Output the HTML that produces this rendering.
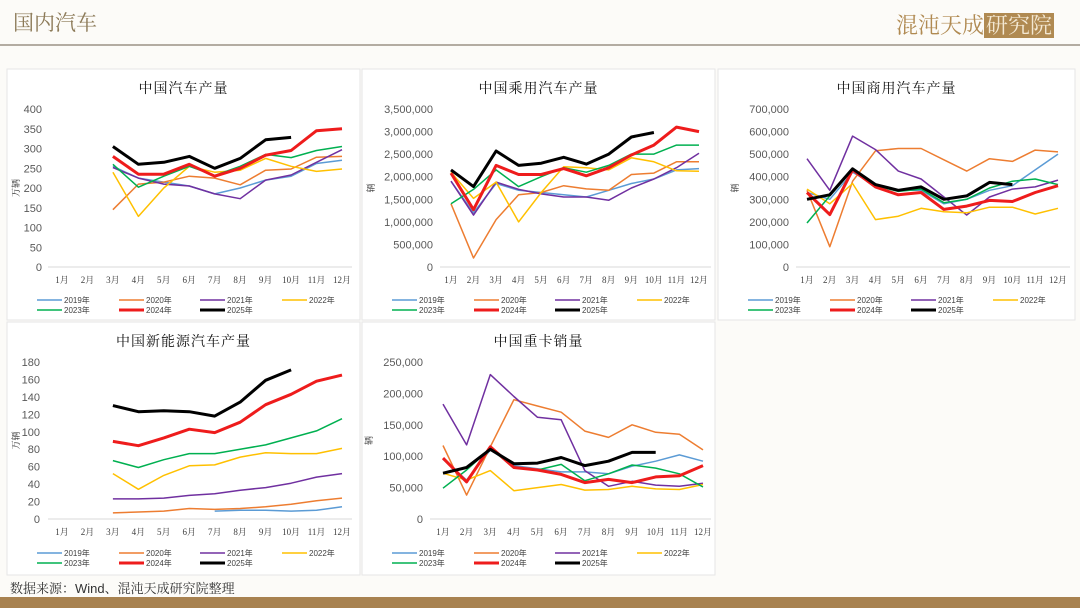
<!DOCTYPE html>
<html><head><meta charset="utf-8">
<style>
html,body{margin:0;padding:0;background:#fcfbf8;}
body{width:1080px;height:608px;overflow:hidden;position:relative;font-family:"Liberation Sans","Noto Sans CJK SC",sans-serif;}
#hdr{position:absolute;left:13px;top:7px;font-size:21px;color:#8c7a58;font-family:"Liberation Serif","Noto Serif CJK SC",serif;}
#logo{position:absolute;right:26px;top:9px;font-size:22px;color:#b08a52;font-family:"Liberation Serif","Noto Serif CJK SC",serif;}
#logo span{background:#b08a52;color:#f3e8d3;padding:0 2px;}
#rule{position:absolute;left:0;top:44px;width:1080px;height:2px;background:#b3aca2;}
#src{position:absolute;left:10px;top:578px;font-size:13px;color:#333;font-family:"Liberation Sans","Noto Serif CJK SC",serif;}
#foot{position:absolute;left:0;top:597px;width:1080px;height:11px;background:#a88250;}
svg{position:absolute;left:0;top:0;}
</style></head><body>
<div id="hdr">国内汽车</div>
<div id="logo">混沌天成<span>研究院</span></div>
<div id="rule"></div>
<svg id="s" width="1080" height="608"></svg>
<div id="src">数据来源：Wind、混沌天成研究院整理</div>
<div id="foot"></div>
<script>
const months = ["1月","2月","3月","4月","5月","6月","7月","8月","9月","10月","11月","12月"];
const years = ["2019年","2020年","2021年","2022年","2023年","2024年","2025年"];
const N = null;
// chart 1: 汽车产量 (万辆)
const auto2019 = [N,N,255,225,215,205,185,200,220,230,262,270];
const auto2020 = [N,N,145,210,215,230,225,208,245,248,278,280];
const auto2021 = [N,N,252,225,210,205,185,173,220,233,265,297];
const auto2022 = [N,N,240,128,200,255,240,245,275,255,242,248];
const auto2023 = [N,N,260,202,230,255,232,255,285,277,295,305];
const auto2024 = [N,N,280,235,235,260,230,250,283,295,345,350];
const auto2025 = [N,N,305,260,265,280,250,275,322,328,N,N];
const autoTicks = [0,50,100,150,200,250,300,350,400];
// chart 2: 乘用车产量 (辆)
const pass2019 = [1900000,1200000,1850000,1700000,1650000,1600000,1550000,1700000,1850000,1950000,2150000,2180000];
const pass2020 = [1400000,200000,1050000,1600000,1650000,1800000,1730000,1700000,2050000,2080000,2330000,2330000];
const pass2021 = [1900000,1150000,1880000,1720000,1620000,1550000,1550000,1480000,1750000,1950000,2200000,2520000];
const pass2022 = [2100000,1520000,1880000,1000000,1650000,2220000,2200000,2150000,2420000,2330000,2130000,2120000];
const pass2023 = [1400000,1720000,2150000,1780000,2000000,2200000,2100000,2250000,2500000,2500000,2700000,2700000];
const pass2024 = [2080000,1270000,2250000,2050000,2050000,2180000,2020000,2200000,2480000,2700000,3100000,3000000];
const pass2025 = [2150000,1780000,2570000,2250000,2300000,2430000,2280000,2500000,2880000,2980000,N,N];
const passTicks = [0,500000,1000000,1500000,2000000,2500000,3000000,3500000];
// chart 3: 商用车产量 (辆)
const comm2019 = [330000,300000,420000,360000,340000,340000,280000,300000,340000,360000,430000,500000];
const comm2020 = [340000,90000,380000,515000,525000,525000,475000,425000,480000,468000,518000,510000];
const comm2021 = [480000,340000,580000,520000,425000,390000,310000,230000,310000,345000,355000,385000];
const comm2022 = [345000,280000,370000,210000,225000,260000,245000,240000,265000,265000,235000,260000];
const comm2023 = [195000,315000,430000,360000,335000,345000,285000,300000,350000,380000,390000,365000];
const comm2024 = [330000,232000,430000,355000,320000,330000,255000,270000,295000,290000,330000,360000];
const comm2025 = [300000,320000,435000,365000,340000,355000,300000,315000,375000,365000,N,N];
const commTicks = [0,100000,200000,300000,400000,500000,600000,700000];
// chart 4: 新能源汽车产量 (万辆)
const nev2019 = [N,N,N,N,N,N,9,10,10,9,10,14];
const nev2020 = [N,N,7,8,9,12,11,12,14,17,21,24];
const nev2021 = [N,N,23,23,24,27,29,33,36,41,48,52];
const nev2022 = [N,N,52,34,50,61,62,71,76,75,75,81];
const nev2023 = [N,N,67,59,68,75,75,80,85,93,101,115];
const nev2024 = [N,N,89,84,93,103,99,111,131,143,158,165];
const nev2025 = [N,N,130,123,124,123,118,134,159,171,N,N];
const nevTicks = [0,20,40,60,80,100,120,140,160,180];
// chart 5: 重卡销量 (辆)
const hvy2019 = [95000,62000,110000,85000,80000,75000,75000,72000,84000,92000,102000,92000];
const hvy2020 = [117000,38000,115000,190000,180000,170000,140000,130000,150000,138000,135000,110000];
const hvy2021 = [183000,118000,230000,195000,162000,158000,77000,52000,60000,54000,52000,57000];
const hvy2022 = [73000,62000,77000,45000,50000,55000,46000,47000,52000,48000,47000,55000];
const hvy2023 = [49000,78000,112000,82000,78000,87000,61000,72000,86000,81000,72000,51000];
const hvy2024 = [97000,59000,115000,82000,78000,71000,58000,63000,58000,67000,69000,85000];
const hvy2025 = [73000,82000,111000,88000,89000,98000,85000,92000,106000,106000,N,N];
const hvyTicks = [0,50000,100000,150000,200000,250000];

const colors = ["#5b9bd5","#ed7d31","#7030a0","#ffc000","#00b050","#ee1c1c","#000000"];
const widths = [1.5,1.5,1.5,1.5,1.5,3,3];
const NS = "http://www.w3.org/2000/svg";
const svg = document.getElementById("s");
function mk(tag, attrs, parent){const e=document.createElementNS(NS,tag);for(const k in attrs)e.setAttribute(k,attrs[k]);(parent||svg).appendChild(e);return e;}
function fmt(v){return v.toLocaleString("en-US");}

function chart(cfg){
  const g = mk("g",{});
  
  
  const bg = mk("rect",{x:cfg.px,y:cfg.py,width:cfg.pw,height:cfg.ph,fill:"#fff",stroke:"#e6e6e6","stroke-width":1},g);
  
  
  const t = mk("text",{x:cfg.px+cfg.pw/2-(cfg.pw>355?0:0),y:cfg.py+24,"text-anchor":"middle","font-size":14,fill:"#111","font-family":"'Liberation Serif','Noto Serif CJK SC',serif","letter-spacing":"1"},g);
  t.textContent = cfg.title;
  
  
  const maxV = cfg.ticks[cfg.ticks.length-1];
  const ys = v => cfg.y0 - (v/maxV)*(cfg.y0-cfg.yTop);
  const xs = i => cfg.x1 + i*(cfg.x12-cfg.x1)/11;
  mk("line",{x1:cfg.axL,x2:cfg.axR,y1:cfg.y0,y2:cfg.y0,stroke:"#d9d9d9","stroke-width":1},g);
  cfg.ticks.forEach(v=>{
    const tt = mk("text",{x:cfg.tickR,y:ys(v)+4,"text-anchor":"end","font-size":11,fill:"#595959"},g);
    tt.textContent = cfg.big ? fmt(v) : String(v);
    
    
  });
  months.forEach((m,i)=>{
    const tt = mk("text",{x:xs(i),y:cfg.y0+16,"text-anchor":"middle","font-size":9,fill:"#404040","font-family":"'Liberation Serif','Noto Serif CJK SC',serif"},g);
    tt.textContent = m;
    
    
  });
  const ul = mk("text",{x:0,y:0,"text-anchor":"middle","font-size":9,fill:"#333",transform:`translate(${cfg.unitX},${(cfg.y0+cfg.yTop)/2}) rotate(-90)`,"font-family":"'Liberation Serif','Noto Serif CJK SC',serif"},g);
  ul.textContent = cfg.unit;
  
  
  cfg.series.forEach((arr,k)=>{
    let d="",pen=false;
    arr.forEach((v,i)=>{ if(v===null){pen=false;return;} d+=(pen?"L":"M")+xs(i).toFixed(1)+","+ys(v).toFixed(1); pen=true; });
    const p = mk("path",{d:d,fill:"none",stroke:colors[k],"stroke-width":widths[k],"stroke-linejoin":"round"},g);
    
    
  });
  const offs=[30,112,193,275];
  years.forEach((y,k)=>{
    const lx = cfg.px+offs[k%4], ly = cfg.legY + (k>=4?10:0);
    const le = mk("g",{},g);
    
    
    mk("line",{x1:lx,x2:lx+25,y1:ly,y2:ly,stroke:colors[k],"stroke-width":widths[k]},le);
    const lt = mk("text",{x:lx+27,y:ly+3,"font-size":8,fill:"#404040"},le);
    lt.textContent = y;
  });
}
chart({name:"auto-production-chart",title:"中国汽车产量",px:7,py:69,pw:353,ph:251,x1:62,x12:342,axL:48,axR:352,y0:267,yTop:109,tickR:42,unitX:19,unit:"万辆",ticks:autoTicks,big:false,legY:300,
  series:[auto2019,auto2020,auto2021,auto2022,auto2023,auto2024,auto2025]});
chart({name:"passenger-car-chart",title:"中国乘用汽车产量",px:362,py:69,pw:353,ph:251,x1:451,x12:699,axL:440,axR:711,y0:267,yTop:109,tickR:433,unitX:374,unit:"辆",ticks:passTicks,big:true,legY:300,
  series:[pass2019,pass2020,pass2021,pass2022,pass2023,pass2024,pass2025]});
chart({name:"commercial-vehicle-chart",title:"中国商用汽车产量",px:718,py:69,pw:357,ph:251,x1:807,x12:1058,axL:796,axR:1070,y0:267,yTop:109,tickR:789,unitX:738,unit:"辆",ticks:commTicks,big:true,legY:300,
  series:[comm2019,comm2020,comm2021,comm2022,comm2023,comm2024,comm2025]});
chart({name:"nev-production-chart",title:"中国新能源汽车产量",px:7,py:322,pw:353,ph:253,x1:62,x12:342,axL:48,axR:352,y0:519,yTop:362,tickR:40,unitX:19,unit:"万辆",ticks:nevTicks,big:false,legY:553,
  series:[nev2019,nev2020,nev2021,nev2022,nev2023,nev2024,nev2025]});
chart({name:"heavy-truck-sales-chart",title:"中国重卡销量",px:362,py:322,pw:353,ph:253,x1:443,x12:703,axL:430,axR:711,y0:519,yTop:362,tickR:423,unitX:372,unit:"辆",ticks:hvyTicks,big:true,legY:553,
  series:[hvy2019,hvy2020,hvy2021,hvy2022,hvy2023,hvy2024,hvy2025]});
</script>
</body></html>
